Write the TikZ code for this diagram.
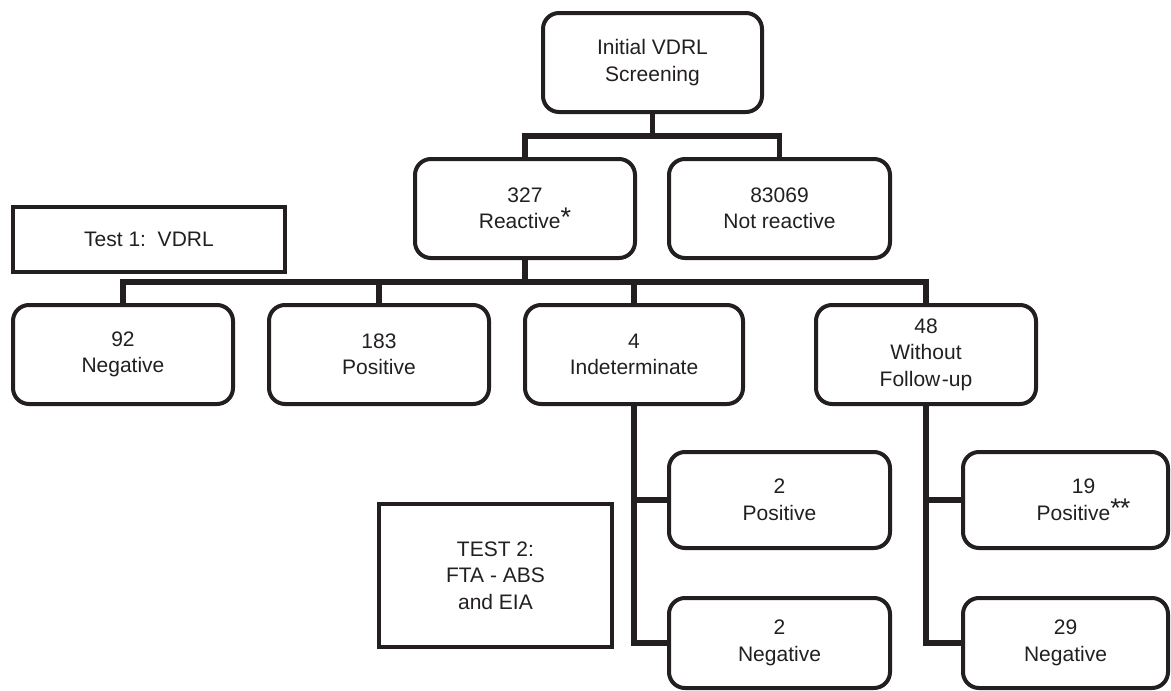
\documentclass[tikz,border=0pt]{standalone}
\usepackage{fontspec}
\setmainfont{Liberation Sans}
\definecolor{ink}{HTML}{231F20}
\newcommand{\astk}{\raisebox{0.12em}{\fontsize{27}{27}\selectfont *}}
\begin{document}
\begin{tikzpicture}[x=1pt,y=-1pt,
  every node/.style={text=ink},
  rbox/.style={draw=ink, line width=4pt, rounded corners=16pt, align=center,
    inner sep=0pt, font=\fontsize{21}{26.5}\selectfont},
  sbox/.style={draw=ink, line width=3.5pt, align=center, inner sep=0pt,
    font=\fontsize{21}{26.5}\selectfont},
  conn/.style={draw=ink, line width=5.5pt, line join=miter, line cap=butt}]
\useasboundingbox (0,0) rectangle (1171,691);
% boxes
\node[rbox, minimum width=219pt, minimum height=99pt] (top) at (652.5,62.5) {Initial VDRL\\Screening};
\node[rbox, minimum width=220pt, minimum height=99pt] (reac) at (525,208.5) {327\\Reactive\astk};
\node[rbox, minimum width=221pt, minimum height=99pt] (notr) at (779.5,208.5) {83069\\Not reactive};
\node[sbox, minimum width=272pt, minimum height=65pt] (t1) at (149,239.5) {Test 1:\ \ VDRL};
\node[rbox, minimum width=220pt, minimum height=99pt] (neg92) at (123,354.5) {92\\Negative};
\node[rbox, minimum width=220pt, minimum height=99pt] (pos183) at (379,354.5) {183\\Positive};
\node[rbox, minimum width=218pt, minimum height=99pt] (ind) at (634,354.5) {4\\Indeterminate};
\node[rbox, minimum width=220pt, minimum height=99pt] (wfu) at (926,354.5) {48\\Without\\Follow\kern1.5pt-up};
\node[sbox, minimum width=233pt, minimum height=143pt] (t2) at (495.5,575.5) {TEST 2:\\FTA - ABS\\and EIA};
\node[rbox, minimum width=221pt, minimum height=96pt] (p2) at (779.5,500) {2\\Positive};
\node[rbox, minimum width=221pt, minimum height=90pt] (n2) at (779.5,643) {2\\Negative};
\node[rbox, minimum width=205pt, minimum height=96pt] (p19) at (1065.5,500) {\hspace*{36pt}19\\\hspace*{36pt}Positive\astk\kern-1pt\astk};
\node[rbox, minimum width=205pt, minimum height=90pt] (n29) at (1065.5,643) {29\\Negative};
% bus coordinates
\coordinate (bus1) at (652.5,136);
\coordinate (bus2) at (525,282);
% connectors
\draw[conn] (top.south) -- (bus1);
\draw[conn] (reac.north) |- (notr.north |- bus1) -- (notr.north);
\draw[conn] (reac.south) -- (bus2);
\draw[conn] (neg92.north) |- (wfu.north |- bus2) -- (wfu.north);
\draw[conn] (pos183.north) -- (pos183.north |- bus2);
\draw[conn] (ind.north) -- (ind.north |- bus2);
\draw[conn] (ind.south) |- (n2.west);
\draw[conn] (ind.south |- p2.west) -- (p2.west);
\draw[conn] (wfu.south) |- (n29.west);
\draw[conn] (wfu.south |- p19.west) -- (p19.west);
\end{tikzpicture}
\end{document}
